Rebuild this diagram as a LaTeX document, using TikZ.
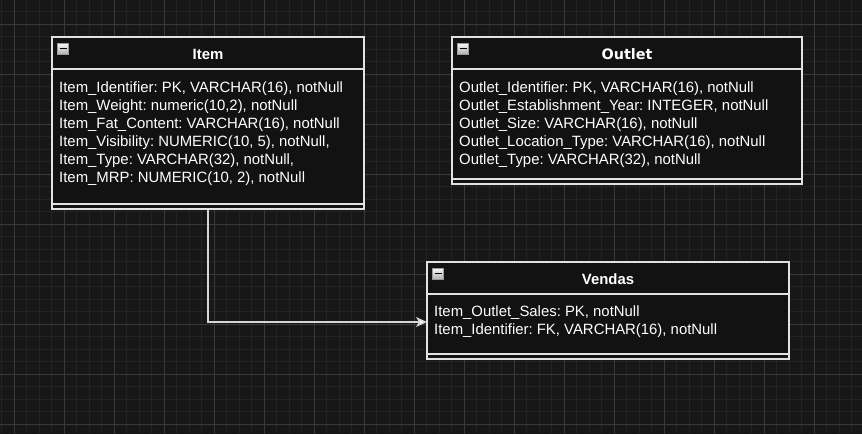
\documentclass[tikz,border=0pt]{standalone}
\usepackage{fontspec}
\setmainfont{Liberation Sans}
\newfontfamily\widebold{DejaVu Sans}
\usetikzlibrary{arrows.meta}
\frenchspacing
\definecolor{bgc}{HTML}{171717}
\definecolor{minorc}{HTML}{232323}
\definecolor{majorc}{HTML}{393939}
\definecolor{boxc}{HTML}{121212}
\definecolor{edgec}{HTML}{E2E2E2}
\definecolor{linkc}{HTML}{D6D6D6}
\tikzset{
  tablebox/.style={draw=edgec, fill=boxc, line width=1.3pt, inner sep=0pt},
  sepline/.style={draw=edgec, line width=1.3pt},
  titletext/.style={anchor=base, inner sep=0pt, text=white, font=\fontsize{14.9}{18}\selectfont\bfseries\frenchspacing},
  widetitle/.style={anchor=base, inner sep=0pt, text=white, font=\widebold\fontsize{14.4}{18}\selectfont\bfseries\frenchspacing},
  rowtext/.style={anchor=base west, inner sep=0pt, text=white, font=\fontsize{14.9}{18}\selectfont\frenchspacing},
  minusicon/.style={draw=gray!80, line width=0.6pt, top color=white!95!gray, bottom color=gray!60, minimum width=11pt, minimum height=11pt, inner sep=0pt},
  conn/.style={draw=linkc, line width=1.3pt, -{Stealth[length=11pt, width=10pt, inset=3pt, fill=white]}}
}
\begin{document}
\begin{tikzpicture}[x=1pt,y=-1pt]
\useasboundingbox (0,0) rectangle (862,434);
\fill[bgc] (0,0) rectangle (862,434);
% grid
\foreach \x in {1.5,14,...,862} \draw[minorc, line width=1pt] (\x,0) -- (\x,434);
\foreach \y in {11.5,24,...,434} \draw[minorc, line width=1pt] (0,\y) -- (862,\y);
\foreach \x in {14,64,...,862} \draw[majorc, line width=1pt] (\x,0) -- (\x,434);
\foreach \y in {24,74,...,434} \draw[majorc, line width=1pt] (0,\y) -- (862,\y);

% Item
\node[tablebox, minimum width=312pt, minimum height=172pt] (item) at (208,123) {};
\draw[sepline] (52,69) -- (364,69);
\draw[sepline] (52,204) -- (364,204);
\node[minusicon] (itemicon) at (63,48.5) {};
\draw[black, line width=1.2pt] ([xshift=-3.5pt]itemicon.center) -- ([xshift=3.5pt]itemicon.center);
\node[titletext] (itemtitle) at (208,59.3) {Item};
\node[rowtext] (item1) at (59,92.7) {Item\_Identifier: PK, VARCHAR(16), notNull};
\node[rowtext] (item2) at (59,110.7) {Item\_Weight: numeric(10,2), notNull};
\node[rowtext] (item3) at (59,128.7) {Item\_Fat\_Content: VARCHAR(16), notNull};
\node[rowtext] (item4) at (59,146.7) {Item\_Visibility: NUMERIC(10, 5), notNull,};
\node[rowtext] (item5) at (59,164.7) {Item\_Type: VARCHAR(32), notNull,};
\node[rowtext] (item6) at (59,182.7) {Item\_MRP: NUMERIC(10, 2), notNull};

% Outlet
\node[tablebox, minimum width=350pt, minimum height=147pt] (outlet) at (627,110.5) {};
\draw[sepline] (452,69) -- (802,69);
\draw[sepline] (452,179) -- (802,179);
\node[minusicon] (outleticon) at (463,48.5) {};
\draw[black, line width=1.2pt] ([xshift=-3.5pt]outleticon.center) -- ([xshift=3.5pt]outleticon.center);
\node[widetitle] (outlettitle) at (627,59.8) {Outlet};
\node[rowtext] (outlet1) at (459,92.7) {Outlet\_Identifier: PK, VARCHAR(16), notNull};
\node[rowtext] (outlet2) at (459,110.7) {Outlet\_Establishment\_Year: INTEGER, notNull};
\node[rowtext] (outlet3) at (459,128.7) {Outlet\_Size: VARCHAR(16), notNull};
\node[rowtext] (outlet4) at (459,146.7) {Outlet\_Location\_Type: VARCHAR(16), notNull};
\node[rowtext] (outlet5) at (459,164.7) {Outlet\_Type: VARCHAR(32), notNull};

% Vendas
\node[tablebox, minimum width=362pt, minimum height=97pt] (vendas) at (608,310.5) {};
\draw[sepline] (427,294) -- (789,294);
\draw[sepline] (427,354) -- (789,354);
\node[minusicon] (vendasicon) at (438,273.5) {};
\draw[black, line width=1.2pt] ([xshift=-3.5pt]vendasicon.center) -- ([xshift=3.5pt]vendasicon.center);
\node[titletext] (vendastitle) at (608,284.3) {Vendas};
\node[rowtext] (vendas1) at (434,316.7) {Item\_Outlet\_Sales: PK, notNull};
\node[rowtext] (vendas2) at (434,334.7) {Item\_Identifier: FK, VARCHAR(16), notNull};

% connector
\coordinate (vin) at (427,322);
\draw[conn] (item.south) |- (vin);
\end{tikzpicture}
\end{document}
